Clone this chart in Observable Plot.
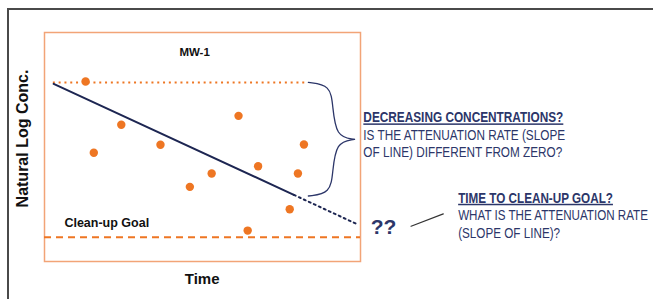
<!DOCTYPE html>
<html>
<head>
<meta charset="utf-8">
<script src="https://cdn.jsdelivr.net/npm/d3@7"></script>
<script src="https://cdn.jsdelivr.net/npm/@observablehq/plot@0.6"></script>
<style>
  html, body { margin: 0; padding: 0; background: #fff; }
  #wrap { position: relative; width: 653px; height: 299px; overflow: hidden; }
  #border { position: absolute; left: 7px; top: 8px; width: 700px; height: 400px;
            border: 2px solid #4a4a4a; box-sizing: border-box; pointer-events: none; z-index: 2; }
</style>
</head>
<body>
<div id="wrap"><div id="border"></div></div>
<script>
// Observed samples at well MW-1 (time, natural log concentration)
const time   = [1.30, 1.56, 2.43, 3.67, 4.60, 5.29, 6.14, 6.43, 6.76, 7.76, 8.02, 8.21];
const lnConc = [7.86, 4.75, 5.97, 5.10, 3.26, 3.84, 6.36, 1.35, 4.16, 2.28, 3.84, 5.11];

// Fitted trend (solid over the record, dotted projection)
const fitTime = [0.29, 7.89];
const fitConc = [7.76, 2.91];
const projTime = [7.89, 9.94];
const projConc = [2.91, 1.60];

// Reference levels
const initialLevel = 7.82;
const initialSpan = [0.28, 8.35];
const goalLevel = 1.06;

// Brace (two halves) connecting initial level and trend end
const braceTime = [8.35, 9.05, 9.12, 9.22, 9.81,   9.81, 9.22, 9.12, 9.05, 8.35];
const braceConc = [7.82, 7.70, 6.80, 5.45, 5.33,   5.33, 5.21, 3.90, 2.98, 2.86];
const braceHalf = ["a","a","a","a","a", "b","b","b","b","b"];

// Annotation texts
const q1Head = "DECREASING CONCENTRATIONS?";
const q1Lines = ["IS THE ATTENUATION RATE (SLOPE", "OF LINE) DIFFERENT FROM ZERO?"];
const q1X = 10.09;
const q1HeadY = 6.29;
const q1Y = [5.50, 4.76];
const q2Head = "TIME TO CLEAN-UP GOAL?";
const q2Lines = ["WHAT IS THE ATTENUATION RATE", "(SLOPE OF LINE)?"];
const q2X = 13.09;
const q2HeadY = 2.78;
const q2Y = [2.01, 1.24];
const lineTexts  = [q1Head, ...q1Lines, q2Head, ...q2Lines];
const lineWidths = [200, 202, 199, 155, 190, 102];
const pointerTime = [11.60, 12.62];
const pointerConc = [1.54, 2.08];

const navy = "#2c3669";
const lineNavy = "#1d2652";
const orange = "#ee7623";
const sans = "'Liberation Sans', Arial, sans-serif";

const pts = time.map((t, i) => ({t, c: lnConc[i]}));
const fit = fitTime.map((t, i) => ({t, c: fitConc[i]}));
const proj = projTime.map((t, i) => ({t, c: projConc[i]}));
const brace = braceTime.map((t, i) => ({t, c: braceConc[i], h: braceHalf[i]}));
const body = [
  ...q1Lines.map((s, i) => ({s, x: q1X, y: q1Y[i]})),
  ...q2Lines.map((s, i) => ({s, x: q2X, y: q2Y[i]}))
];
const heads = [{s: q1Head, x: q1X, y: q1HeadY}, {s: q2Head, x: q2X, y: q2HeadY}];
const pointer = pointerTime.map((t, i) => ({t, c: pointerConc[i]}));

const chart = Plot.plot({
  width: 653,
  height: 299,
  marginLeft: 44,
  marginRight: 293,
  marginTop: 32,
  marginBottom: 38,
  x: {domain: [0, 10], axis: null},
  y: {domain: [0, 10], axis: null},
  style: {background: "transparent", overflow: "visible"},
  marks: [
    Plot.frame({stroke: "#f2a477", strokeWidth: 1.5}),
    Plot.ruleY([initialLevel], {x1: initialSpan[0], x2: initialSpan[1], stroke: orange, strokeWidth: 2, strokeDasharray: "2,3.8"}),
    Plot.ruleY([goalLevel], {stroke: orange, strokeWidth: 2, strokeDasharray: "7,5"}),
    Plot.line(fit, {x: "t", y: "c", stroke: lineNavy, strokeWidth: 2}),
    Plot.line(proj, {x: "t", y: "c", stroke: lineNavy, strokeWidth: 2, strokeDasharray: "2,3.5"}),
    Plot.line(brace, {x: "t", y: "c", z: "h", curve: "basis", stroke: navy, strokeWidth: 1.3}),
    Plot.dot(pts, {x: "t", y: "c", r: 4.2, fill: orange, stroke: "none"}),
    Plot.text(["MW-1"], {x: [4.75], y: [9.13], text: d => d, fontFamily: sans, fontWeight: "bold", fontSize: 11.5, fill: "#111"}),
    Plot.text(["Clean-up Goal"], {x: [0.63], y: [1.66], text: d => d, textAnchor: "start", fontFamily: sans, fontWeight: "bold", fontSize: 12.5, fill: "#111"}),
    Plot.text(["Natural Log Conc."], {x: [-0.70], y: [5.37], text: d => d, rotate: -90, fontFamily: sans, fontWeight: "bold", fontSize: 16, fill: "#111"}),
    Plot.text(["Time"], {x: [4.99], y: [-0.79], text: d => d, fontFamily: sans, fontWeight: "bold", fontSize: 15, fill: "#111"}),
    Plot.text(heads, {x: "x", y: "y", text: "s", textAnchor: "start", fontFamily: sans, fontSize: 15, fontWeight: "bold", fill: navy}),
    Plot.text(body, {x: "x", y: "y", text: "s", textAnchor: "start", fontFamily: sans, fontSize: 15, fontWeight: "normal", fill: navy}),
    Plot.text(["??"], {x: [10.73], y: [1.50], text: d => d, fontFamily: sans, fontWeight: "bold", fontSize: 21, fill: navy}),
    Plot.line(pointer, {x: "t", y: "c", stroke: "#333", strokeWidth: 1.2})
  ]
});

document.getElementById("wrap").appendChild(chart);

// Condense the annotation lines horizontally to the widths seen in the reference; underline headlines
d3.select(chart).selectAll("text").each(function() {
  const s = this.textContent;
  const k = lineTexts.indexOf(s);
  if (k >= 0) {
    const natural = this.getComputedTextLength();
    const sx = lineWidths[k] / natural;
    const t = this.getAttribute("transform") || "";
    this.setAttribute("transform", `${t} scale(${sx},1)`);
    if (s === q1Head || s === q2Head) d3.select(this).style("text-decoration", "underline");
  }
});
</script>
</body>
</html>
